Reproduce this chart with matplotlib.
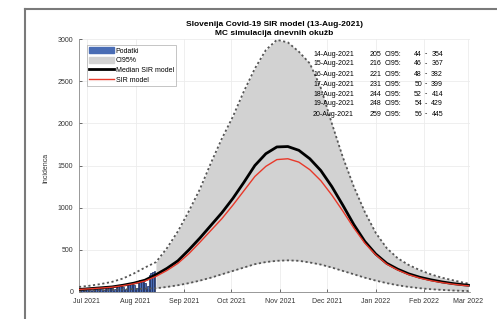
import numpy as np
import pandas as pd
import matplotlib
matplotlib.use("Agg")
import matplotlib.pyplot as plt
import matplotlib.dates as mdates
from matplotlib.lines import Line2D

plt.rcParams['font.family'] = ['Liberation Sans', 'DejaVu Sans']

# ---- podatki (dnevne okuzbe) ----
data_start = "2021-06-27"
podatki = [12, 25, 40, 35, 38, 30, 28,
           10, 20, 45, 40, 45, 42, 35,
           12, 25, 55, 60, 58, 55, 45,
           15, 30, 75, 80, 78, 70, 60,
           20, 40, 95, 100, 105, 95, 80,
           25, 50, 130, 140, 145, 135, 110,
           35, 70, 200, 230, 240, 250]

# ---- model (tedenske tocke) ----
model_dates = ["2021-06-26", "2021-07-03", "2021-07-10", "2021-07-17", "2021-07-24",
               "2021-07-31", "2021-08-07", "2021-08-14", "2021-08-21", "2021-08-28",
               "2021-09-04", "2021-09-11", "2021-09-18", "2021-09-25", "2021-10-02",
               "2021-10-09", "2021-10-16", "2021-10-23", "2021-10-30", "2021-11-06",
               "2021-11-13", "2021-11-20", "2021-11-27", "2021-12-04", "2021-12-11",
               "2021-12-18", "2021-12-25", "2022-01-01", "2022-01-08", "2022-01-15",
               "2022-01-22", "2022-01-29", "2022-02-05", "2022-02-12", "2022-02-19",
               "2022-02-26", "2022-03-01"]
median_sir = [30, 40, 50, 60, 80, 105, 140, 205, 280, 370,
              500, 640, 790, 940, 1110, 1300, 1500, 1640, 1720, 1725,
              1680, 1580, 1440, 1250, 1030, 800, 600, 450, 340, 270,
              215, 175, 145, 120, 100, 85, 80]
sir_model = [30, 38, 47, 57, 75, 98, 130, 185, 255, 340,
             455, 590, 730, 870, 1030, 1200, 1370, 1490, 1570, 1580,
             1540, 1450, 1320, 1150, 960, 760, 580, 440, 330, 260,
             205, 165, 135, 112, 93, 78, 74]
ci_lo = [15, 18, 22, 26, 30, 35, 40, 44, 60, 80,
         105, 135, 170, 210, 250, 290, 330, 355, 370, 375,
         370, 350, 325, 290, 250, 210, 170, 135, 105, 80,
         60, 45, 33, 25, 18, 13, 12]
ci_hi = [60, 75, 95, 120, 160, 220, 290, 354, 520, 720,
         960, 1220, 1530, 1820, 2080, 2380, 2650, 2870, 2990, 2960,
         2850, 2710, 2420, 2000, 1600, 1250, 950, 700, 520, 400,
         320, 260, 210, 170, 140, 110, 100]

# ---- napoved v tabeli ----
nap_dni = ["14-Aug-2021", "15-Aug-2021", "16-Aug-2021", "17-Aug-2021",
           "18-Aug-2021", "19-Aug-2021", "20-Aug-2021"]
nap_med = [205, 216, 221, 231, 244, 248, 259]
nap_lo = [44, 46, 48, 50, 52, 54, 56]
nap_hi = [354, 367, 382, 399, 414, 429, 445]

W, H = 497, 319
fig = plt.figure(figsize=(W / 100, H / 100), dpi=100)
ax = fig.add_axes([79 / W, 1 - 292 / H, 391 / W, 253 / H])

pdates = pd.date_range(data_start, periods=len(podatki), freq="D")
mdt = pd.to_datetime(model_dates)
lo = np.array(ci_lo)
hi = np.array(ci_hi)

napoved = mdt >= pd.Timestamp("2021-08-14")
ax.fill_between(mdt[napoved], lo[napoved], hi[napoved], color="#d2d2d2", lw=0, zorder=1)
ax.bar(pdates, podatki, width=1.0, color="#4a6db5", edgecolor="#1c2b5a", lw=0.5, zorder=2)
ax.plot(mdt, ci_hi, color="#555555", ls=(0, (1.2, 1.4)), lw=1.3, zorder=3)
ax.plot(mdt, ci_lo, color="#555555", ls=(0, (1.2, 1.4)), lw=1.3, zorder=3)
ax.plot(mdt, median_sir, color="black", lw=2.0, zorder=4)
ax.plot(mdt, sir_model, color="#e8392a", lw=1.0, zorder=5)

ax.set_xlim(pd.Timestamp("2021-06-26"), pd.Timestamp("2022-03-02"))
ax.set_ylim(0, 3000)
ax.set_yticks(np.arange(0, 3001, 500))
ax.xaxis.set_major_locator(mdates.MonthLocator())
ax.xaxis.set_major_formatter(mdates.DateFormatter("%b %Y"))
ax.tick_params(labelsize=5, colors="#333333", direction="in", length=2, width=0.5, pad=4)
ax.grid(True, color="#ececec", lw=0.6)
ax.set_axisbelow(True)
for s in ["top", "right"]:
    ax.spines[s].set_visible(False)
for s in ["left", "bottom"]:
    ax.spines[s].set_color("#888888")
    ax.spines[s].set_linewidth(0.6)

ax.set_ylabel("Incidenca", fontsize=5, color="#333333")
ax.yaxis.set_label_coords(-30 / 391, 0.49)

ax.set_title("Slovenija Covid-19 SIR model (13-Aug-2021)\nMC simulacija dnevnih okužb",
             fontsize=6, fontweight="bold", linespacing=1.3, pad=3)

h_bar = plt.Rectangle((0, 0), 1, 1, fc="#4a6db5", ec="#4a6db5")
h_ci = plt.Rectangle((0, 0), 1, 1, fc="#d2d2d2", ec="#d2d2d2")
h_med = Line2D([], [], color="black", lw=2.0)
h_sir = Line2D([], [], color="#e8392a", lw=1.0)
leg = ax.legend([h_bar, h_ci, h_med, h_sir],
                ["Podatki", "CI95%", "Median SIR model", "SIR model"],
                loc="upper left", bbox_to_anchor=(8 / 391, 1 - 6 / 253),
                fontsize=5, frameon=True, fancybox=False, handlelength=3.5,
                handleheight=0.9, labelspacing=0.35, borderpad=0.35,
                handletextpad=0.3, borderaxespad=0)
leg.get_frame().set_edgecolor("#999999")
leg.get_frame().set_linewidth(0.5)

# tabela napovedi desno zgoraj
for i in range(len(nap_dni)):
    yy = 1 - (54 + 10 * i) / H
    fig.text(313 / W, yy, nap_dni[i], fontsize=5, va="center", ha="left")
    fig.text(381 / W, yy, str(nap_med[i]), fontsize=5, va="center", ha="right")
    fig.text(385 / W, yy, "CI95:", fontsize=5, va="center", ha="left")
    fig.text(422 / W, yy, str(nap_lo[i]), fontsize=5, va="center", ha="right")
    fig.text(425 / W, yy, "-", fontsize=5, va="center", ha="left")
    fig.text(443 / W, yy, str(nap_hi[i]), fontsize=5, va="center", ha="right")

# okvir skeniranega lista
fig.add_artist(Line2D([25 / W, 25 / W], [0, 1 - 9 / H], color="#7a7a7a", lw=1.5))
fig.add_artist(Line2D([25 / W, 1], [1 - 9 / H, 1 - 9 / H], color="#7a7a7a", lw=1.5))

fig.savefig("out.png", dpi=100)
